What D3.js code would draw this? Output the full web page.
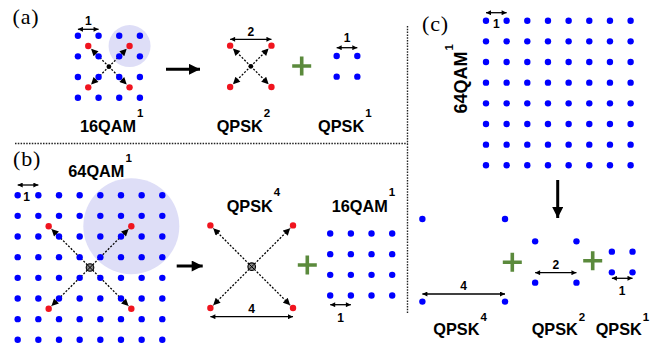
<!DOCTYPE html>
<html>
<head>
<meta charset="utf-8">
<script src="https://cdn.jsdelivr.net/npm/d3@7"></script>
<style>
  body { margin: 0; background: #fff; }
  text { font-family: "Liberation Sans", Arial, sans-serif; font-weight: bold; fill: #000; }
  .panel { font-family: "Liberation Serif", "Times New Roman", serif; font-weight: normal; }
</style>
</head>
<body>
<svg></svg>
<script>
let width = 667;
let height = 349;
let unit = 10.33; // pixels per amplitude unit

// amplitude levels of each constellation
let levels64 = [-7, -5, -3, -1, 1, 3, 5, 7];
let levels16 = [-3, -1, 1, 3];
let levelsQpsk1 = [-1, 1];
let levelsQpsk2 = [-2, 2];
let levelsQpsk4 = [-4, 4];

// constellations: (a) 16QAM, QPSK2, QPSK1 / (b) 64QAM, QPSK4, 16QAM / (c) 64QAM, QPSK4, QPSK2, QPSK1
let names = ["16QAM", "QPSK", "QPSK", "64QAM", "QPSK", "16QAM", "64QAM", "QPSK", "QPSK", "QPSK"];
let powers = ["1", "2", "1", "1", "4", "1", "1", "4", "2", "1"];
let levelSets = [levels16, levelsQpsk2, levelsQpsk1, levels64, levelsQpsk4, levels16, levels64, levelsQpsk4, levelsQpsk2, levelsQpsk1];
let dotColors = ["blue", "red", "blue", "blue", "red", "blue", "blue", "blue", "blue", "blue"];
// distance labels and the span (in amplitude units) they measure
let distLabels = ["1", "2", "1", "1", "4", "1", "1", "4", "2", "1"];
let distSpans = [[-3, -1], [-2, 2], [-1, 1], [-7, -5], [-4, 4], [-3, -1], [-7, -5], [-4, 4], [-2, 2], [-1, 1]];
// highlighted (red) points inside a larger constellation
let highlight16 = [-2, 2];
let highlight64 = [-4, 4];

// ---- layout ----
let centers = [[108.9, 66.7], [250.8, 66.3], [347, 66.3], [90, 267.5], [251.7, 266.7], [361.2, 264.5],
               [558.3, 93], [463.7, 260.3], [555.8, 262], [622.2, 262]];
let labelPos = [[80, 131.7], [216.7, 131.7], [318, 131.7], [68.3, 176.7], [226.7, 211.7], [331.7, 211.7],
                [467, 113.5], [433.3, 335], [531.7, 335], [595.7, 335]];
let distArrowY = [29.3, 39.3, 47.7, 185, 316.7, 304.7, 12.7, 294, 272.7, 278.3];
let distTextY = [25.2, 36, 41.7, 201, 313.3, 321.7, 28.3, 290, 269.3, 295];

let svg = d3.select("svg").attr("width", width).attr("height", height);

let defs = svg.append("defs");
defs.append("marker").attr("id", "small").attr("viewBox", "0 0 6 6")
  .attr("markerUnits", "userSpaceOnUse").attr("markerWidth", 6).attr("markerHeight", 5)
  .attr("refX", 6).attr("refY", 3).attr("orient", "auto-start-reverse")
  .append("path").attr("d", "M0,0L6,3L0,6Z").attr("fill", "#000");
defs.append("marker").attr("id", "diag").attr("viewBox", "0 0 8 8")
  .attr("markerUnits", "userSpaceOnUse").attr("markerWidth", 8).attr("markerHeight", 7)
  .attr("refX", 8).attr("refY", 4).attr("orient", "auto")
  .append("path").attr("d", "M0,0L8,4L0,8Z").attr("fill", "#000");

let scales = centers.map((c) => {
  return {
    x: d3.scaleLinear().domain([0, 1]).range([c[0], c[0] + unit]),
    y: d3.scaleLinear().domain([0, 1]).range([c[1], c[1] - unit])
  };
});

// shaded regions
let shade = [{ k: 0, p: [2, 2], r: 21 }, { k: 3, p: [4, 4], r: 48 }];
svg.selectAll(".shade").data(shade).enter().append("circle")
  .attr("cx", (d) => scales[d.k].x(d.p[0]))
  .attr("cy", (d) => scales[d.k].y(d.p[1]))
  .attr("r", (d) => d.r)
  .attr("fill", "#dedef7");

// dashed diagonal arrows from center to highlighted points
let diagonals = [];
[[0, highlight16], [1, levelsQpsk2], [3, highlight64], [4, levelsQpsk4]].forEach(([k, lv]) => {
  lv.forEach((i) => lv.forEach((q) => diagonals.push({ k: k, i: i, q: q })));
});
svg.selectAll(".diag").data(diagonals).enter().append("line")
  .attr("x1", (d) => scales[d.k].x(0))
  .attr("y1", (d) => scales[d.k].y(0))
  .attr("x2", (d) => {
    let s = scales[d.k];
    let dx = s.x(d.i) - s.x(0), dy = s.y(d.q) - s.y(0), len = Math.hypot(dx, dy);
    return s.x(0) + dx * (len - 4) / len;
  })
  .attr("y2", (d) => {
    let s = scales[d.k];
    let dx = s.x(d.i) - s.x(0), dy = s.y(d.q) - s.y(0), len = Math.hypot(dx, dy);
    return s.y(0) + dy * (len - 4) / len;
  })
  .attr("stroke", "#000").attr("stroke-width", 1.3).attr("stroke-dasharray", "2,1.6")
  .attr("marker-end", "url(#diag)");

// constellation points
let points = [];
levelSets.forEach((lv, k) => {
  lv.forEach((i) => lv.forEach((q) => {
    points.push({ k: k, i: i, q: q, color: dotColors[k] });
  }));
  if (k === 0) highlight16.forEach((i) => highlight16.forEach((q) => points.push({ k: k, i: i, q: q, color: "red" })));
  if (k === 3) highlight64.forEach((i) => highlight64.forEach((q) => points.push({ k: k, i: i, q: q, color: "red" })));
});
svg.selectAll(".pt").data(points).enter().append("circle")
  .attr("cx", (d) => scales[d.k].x(d.i))
  .attr("cy", (d) => scales[d.k].y(d.q))
  .attr("r", 3.2)
  .attr("fill", (d) => d.color === "red" ? "#f0141e" : "#0000ff");

// center markers
[0, 1].forEach((k) => {
  svg.append("circle").attr("cx", scales[k].x(0)).attr("cy", scales[k].y(0)).attr("r", 2.4).attr("fill", "#000");
});
[3, 4].forEach((k) => {
  let cx = scales[k].x(0), cy = scales[k].y(0);
  svg.append("circle").attr("cx", cx).attr("cy", cy).attr("r", 3.8).attr("fill", "#888").attr("stroke", "#000").attr("stroke-width", 1.1);
  svg.append("path").attr("d", `M${cx - 2.5},${cy - 2.5}L${cx + 2.5},${cy + 2.5}M${cx - 2.5},${cy + 2.5}L${cx + 2.5},${cy - 2.5}`)
    .attr("stroke", "#000").attr("stroke-width", 1);
});

// distance arrows
distSpans.forEach((sp, k) => {
  let s = scales[k];
  svg.append("line")
    .attr("x1", s.x(sp[0])).attr("x2", s.x(sp[1]))
    .attr("y1", distArrowY[k]).attr("y2", distArrowY[k])
    .attr("stroke", "#000").attr("stroke-width", 1.3)
    .attr("marker-start", "url(#small)").attr("marker-end", "url(#small)");
  svg.append("text")
    .attr("x", (s.x(sp[0]) + s.x(sp[1])) / 2 - (k === 3 ? 1.5 : 0))
    .attr("y", distTextY[k])
    .attr("text-anchor", "middle")
    .attr("font-size", 12)
    .text(distLabels[k]);
});

// constellation names with power superscripts
names.forEach((n, k) => {
  let t = svg.append("text")
    .attr("font-size", k === 6 ? 18 : 16.3);
  if (k === 6) {
    t.attr("transform", `translate(${labelPos[k][0]},${labelPos[k][1]}) rotate(-90)`);
  } else {
    t.attr("x", labelPos[k][0]).attr("y", labelPos[k][1]);
  }
  t.append("tspan").text(n);
  t.append("tspan").attr("dx", 1).attr("dy", k === 4 || k === 5 ? -16 : -14.5).attr("font-size", 11.5).text(powers[k]);
});

// transformation arrows
let bigArrows = [
  { x1: 166, y1: 69.3, x2: 204, y2: 69.3 },
  { x1: 176.7, y1: 266, x2: 206.7, y2: 266 },
  { x1: 557.7, y1: 180, x2: 557.7, y2: 222 }
];
defs.append("marker").attr("id", "big").attr("viewBox", "0 0 12 12")
  .attr("markerUnits", "userSpaceOnUse").attr("markerWidth", 12).attr("markerHeight", 11)
  .attr("refX", 12).attr("refY", 6).attr("orient", "auto")
  .append("path").attr("d", "M0,0L12,6L0,12Z").attr("fill", "#000");
svg.selectAll(".big").data(bigArrows).enter().append("line")
  .attr("x1", (d) => d.x1).attr("y1", (d) => d.y1)
  .attr("x2", (d) => d.x2 - (d.x2 - d.x1 ? 4 : 0)).attr("y2", (d) => d.y2 - (d.y2 - d.y1 ? 4 : 0))
  .attr("stroke", "#000").attr("stroke-width", 3)
  .attr("marker-end", "url(#big)");

// plus signs
let plusses = [[301.7, 66], [307.3, 265], [512.3, 262.3], [592.7, 260.7]];
svg.selectAll(".plus").data(plusses).enter().append("path")
  .attr("d", (d) => `M${d[0] - 9.5},${d[1]}H${d[0] + 9.5}M${d[0]},${d[1] - 9.5}V${d[1] + 9.5}`)
  .attr("stroke", "#5b8a3c").attr("stroke-width", 3.6);

// panel separators
svg.append("line").attr("x1", 15).attr("x2", 407.5).attr("y1", 143.5).attr("y2", 143.5)
  .attr("stroke", "#222").attr("stroke-width", 1.4).attr("stroke-dasharray", "1.5,1.3");
svg.append("line").attr("x1", 407.5).attr("x2", 407.5).attr("y1", 26).attr("y2", 313)
  .attr("stroke", "#222").attr("stroke-width", 1.4).attr("stroke-dasharray", "1.5,1.3");

// panel letters
let panels = ["(a)", "(b)", "(c)"];
let panelPos = [[12.5, 23.5], [13, 166], [422, 31]];
panels.forEach((p, k) => {
  svg.append("text").attr("class", "panel").attr("x", panelPos[k][0]).attr("y", panelPos[k][1])
    .attr("font-size", 22).attr("letter-spacing", 0.8).text(p);
});
</script>
</body>
</html>
